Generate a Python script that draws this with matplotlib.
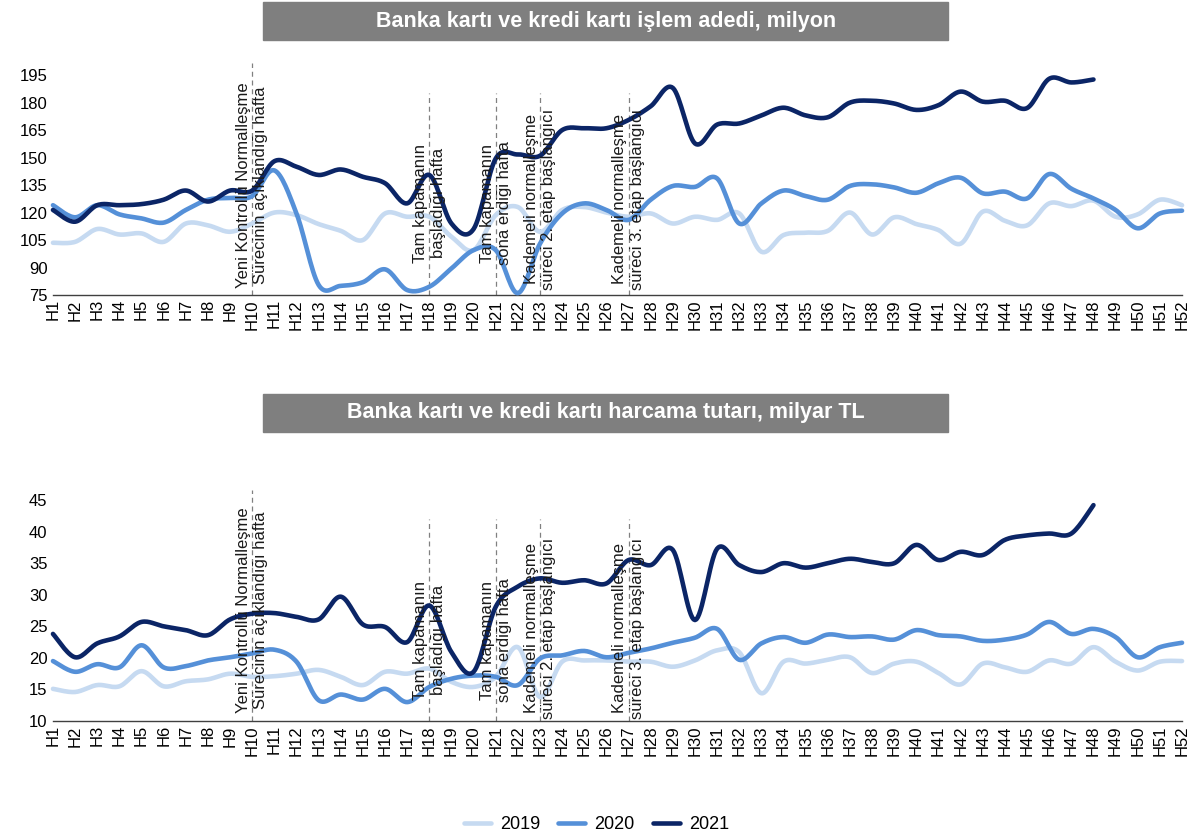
import numpy as np
import matplotlib
matplotlib.use("Agg")
import matplotlib.pyplot as plt
from matplotlib.patches import Rectangle

plt.rcParams['font.family'] = ['Liberation Sans', 'DejaVu Sans']

weeks = [f"H{i}" for i in range(1, 53)]

# Banka karti ve kredi karti islem adedi, milyon
adet_2019 = [103.5, 104, 111, 108, 108.6, 104, 114, 113, 109.5, 114,
             120, 118.6, 113.7, 110, 105, 119.5, 117.7, 117.7, 106.8, 99.5,
             118.6, 123, 109.5, 121.4, 123, 120, 117.7, 119.5, 114, 117.7,
             116, 119.5, 98.6, 107.7, 109, 110, 120, 108, 117.4, 113.7,
             110.4, 103, 120.5, 115.5, 113, 125, 123.5, 126.5, 117.7, 119,
             127, 124]
adet_2020 = [124, 117.4, 124, 119, 116.8, 114.5, 121.4, 127, 128, 129,
             143, 119.5, 80.5, 80, 82, 89, 77.7, 79.5, 89.5, 99.5,
             99.5, 76, 103, 119.5, 125, 121.4, 116, 127, 134.5, 134,
             138.6, 114, 125, 132, 129, 127, 134.5, 135.4, 133.7, 130.8,
             136, 139, 130.5, 131.4, 127.7, 141, 133, 127.7, 121.4, 111.4,
             119.5, 121]
adet_2021 = [121.4, 115, 124, 124, 124.6, 127, 132, 126, 132, 132,
             148, 145, 140.5, 143.5, 139.5, 136, 125, 140.5, 114, 111,
             149.5, 151.7, 151, 165, 166, 166, 170.5, 178, 188, 157.7,
             168, 168.6, 173, 177.2, 173, 172, 180, 181, 179.5, 176,
             178.6, 186, 180.5, 181, 177, 193, 191, 192.6]

# Banka karti ve kredi karti harcama tutari, milyar TL
tutar_2019 = [15.1, 14.6, 15.7, 15.5, 17.9, 15.5, 16.3, 16.6, 17.5, 17,
              17.1, 17.5, 18.1, 17, 15.7, 17.8, 17.5, 18.3, 16.2, 15.4,
              17, 21.7, 13.8, 19.4, 19.6, 19.6, 19.4, 19.4, 18.6, 19.6,
              21.2, 20.9, 14.4, 19.4, 19.1, 19.7, 20.1, 17.6, 19.1, 19.4,
              17.6, 15.8, 19.1, 18.5, 17.8, 19.6, 19.1, 21.7, 19.4, 18,
              19.4, 19.5]
tutar_2020 = [19.5, 17.8, 19, 18.5, 22, 18.5, 18.7, 19.6, 20.1, 20.7,
              21.3, 19.4, 13.3, 14.2, 13.4, 15.1, 13, 15.4, 16.7, 17.2,
              17, 15.7, 19.9, 20.4, 21.1, 20.1, 20.8, 21.5, 22.4, 23.2,
              24.6, 19.7, 22.3, 23.3, 22.4, 23.7, 23.3, 23.4, 22.9, 24.4,
              23.6, 23.4, 22.7, 22.9, 23.7, 25.7, 23.8, 24.6, 23.3, 20.1,
              21.7, 22.4]
tutar_2021 = [23.8, 20.1, 22.3, 23.4, 25.7, 25, 24.4, 23.6, 26.1, 27,
              27.1, 26.5, 26.1, 29.7, 25.3, 24.9, 22.5, 28.3, 20.9, 17.8,
              28.1, 31.3, 32.6, 31.9, 32.3, 31.8, 35.5, 34.7, 37.1, 26,
              37.3, 34.7, 33.6, 35, 34.3, 35, 35.7, 35.2, 35, 37.9,
              35.5, 36.8, 36.3, 38.7, 39.4, 39.7, 39.7, 44.2]

years = ["2019", "2020", "2021"]
colors = ["#c6daf1", "#5590d8", "#0b2566"]

# week index of each event and its label
event_weeks = [9, 17, 20, 22, 26]
event_labels = ["Yeni Kontrollü Normalleşme\nSürecinin açıklandığı hafta",
                "Tam kapamanın\nbaşladığı hafta",
                "Tam kapamanın\nsona erdiği hafta",
                "Kademeli normalleşme\nsüreci 2. etap başlangıcı",
                "Kademeli normalleşme\nsüreci 3. etap başlangıcı"]


# Excel style smoothed line (Catmull-Rom through the points)
def smooth(y, n=16):
    y = np.asarray(y, dtype=float)
    x = np.arange(len(y), dtype=float)
    p = np.column_stack([x, y])
    p = np.vstack([p[0], p, p[-1]])
    t = np.linspace(0, 1, n, endpoint=False)[:, None]
    out = []
    for i in range(1, len(p) - 2):
        p0, p1, p2, p3 = p[i - 1], p[i], p[i + 1], p[i + 2]
        c1 = p1 + (p2 - p0) / 6
        c2 = p2 - (p3 - p1) / 6
        seg = ((1 - t) ** 3) * p1 + 3 * ((1 - t) ** 2) * t * c1 \
            + 3 * (1 - t) * t ** 2 * c2 + t ** 3 * p2
        out.append(seg)
    out.append(p[-2][None, :])
    out = np.vstack(out)
    return out[:, 0], out[:, 1]


def draw_panel(ax, series, ylim, yticks, ev_top, ev_first_top, text_y):
    for vals, c, lab in zip(series, colors, years):
        xs, ys = smooth(vals)
        ax.plot(xs, ys, color=c, lw=3.3, label=lab, solid_capstyle='round',
                clip_on=False, zorder=3)
    for k, (w, lab) in enumerate(zip(event_weeks, event_labels)):
        top = ev_first_top if k == 0 else ev_top
        ax.plot([w, w], [ylim[0], top], color="#808080", lw=0.9,
                ls=(0, (4, 3)), zorder=2)
        ax.text(w, text_y[k], lab, rotation=90, ha='center', va='center',
                multialignment='center', fontsize=12, color="#1a1a1a",
                zorder=4)
    ax.set_xlim(0, len(weeks) - 1)
    ax.set_ylim(*ylim)
    ax.set_yticks(yticks)
    ax.set_xticks(range(len(weeks)))
    ax.set_xticklabels(weeks, rotation=90, fontsize=12)
    ax.tick_params(axis='y', length=0, labelsize=12, pad=4)
    ax.tick_params(axis='x', length=0, pad=3)
    for s in ['top', 'right', 'left']:
        ax.spines[s].set_visible(False)
    ax.spines['bottom'].set_color("#404040")
    ax.spines['bottom'].set_linewidth(1.0)


fig = plt.figure(figsize=(11.93, 8.39), dpi=100)

ax1 = fig.add_axes([0.0444, 0.6484, 0.9464, 0.2765])
draw_panel(ax1, [adet_2019, adet_2020, adet_2021], (75, 201.6),
           range(75, 196, 15), 185.2, 201.6, [135, 125, 125, 127.4, 127.4])

ax2 = fig.add_axes([0.0444, 0.1406, 0.9464, 0.2754])
draw_panel(ax2, [tutar_2019, tutar_2020, tutar_2021], (10, 46.6),
           range(10, 46, 5), 42, 46.6, [27.6, 22.8, 22.8, 24.7, 24.7])

# grey title boxes
titles = ["Banka kartı ve kredi kartı işlem adedi, milyon",
          "Banka kartı ve kredi kartı harcama tutarı, milyar TL"]
for y0, title in zip([0.9523, 0.4851], titles):
    fig.patches.append(Rectangle((0.2205, y0), 0.5742, 0.0453,
                                 transform=fig.transFigure,
                                 color="#7f7f7f", zorder=0))
    fig.text(0.2205 + 0.5742 / 2, y0 + 0.0453 / 2, title, color="white",
             fontsize=15.5, fontweight='bold', ha='center', va='center')

handles, labels = ax1.get_legend_handles_labels()
fig.legend(handles, labels, loc='center', bbox_to_anchor=(0.5, 0.0167),
           ncol=3, frameon=False, fontsize=13, handlelength=1.5,
           handletextpad=0.5, columnspacing=1.0)

fig.savefig("out.png", dpi=100)
